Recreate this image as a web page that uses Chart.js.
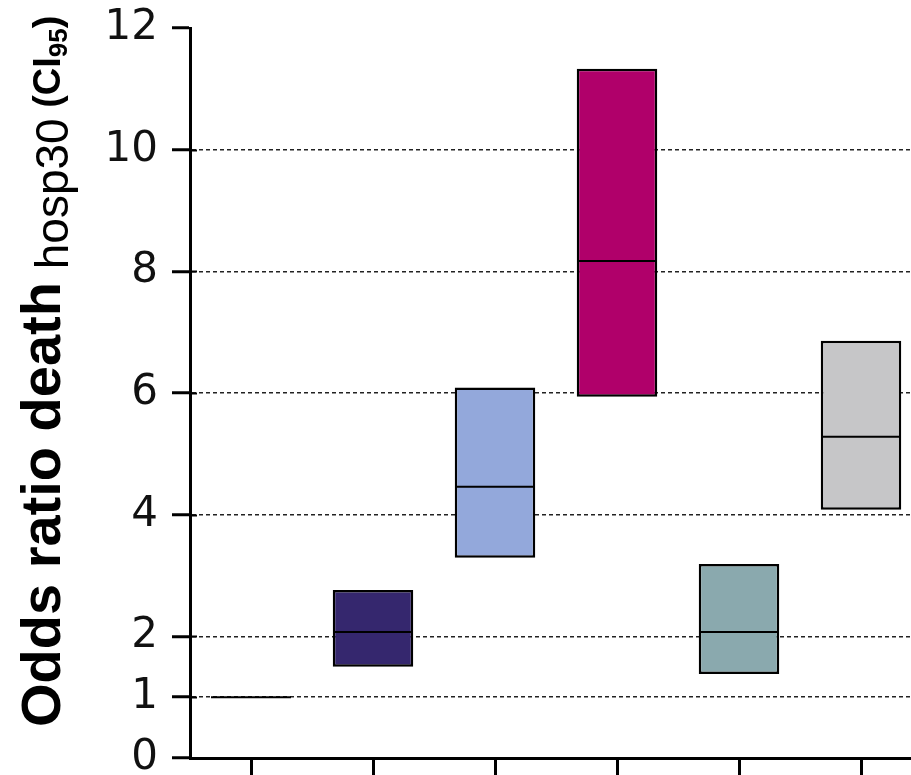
<!DOCTYPE html>
<html>
<head>
<meta charset="utf-8">
<script src="https://cdn.jsdelivr.net/npm/chart.js@4.4.1/dist/chart.umd.min.js"></script>
<style>
  html, body { margin: 0; padding: 0; background: #fff; overflow: hidden; }
  #orChart { position: absolute; left: 0; top: 0; }
</style>
</head>
<body>
<canvas id="orChart" width="940" height="800"></canvas>
<script>
// Data
const categories = ['Reference', 'Group 1', 'Group 2', 'Group 3', 'Group 4', 'Group 5'];
const ciLow = [null, 1.50, 3.29, 5.94, 1.38, 4.08];
const ciHigh = [null, 2.76, 6.09, 11.33, 3.19, 6.86];
const oddsRatio = [1, 2.07, 4.46, 8.17, 2.07, 5.28];
const boxColors = ['#ffffff', '#35276e', '#93a8db', '#b0006a', '#8aa9ae', '#c6c6c8'];
const yTickValues = [0, 1, 2, 4, 6, 8, 10, 12];

// y-axis title pieces: [text, bold, size, baseline shift]
const yTitleParts = [
    ['Odds ratio death', true, 56, 0],
    [' hosp30', false, 46, 8],
    [' (CI', true, 38, 0],
    ['95', true, 26, 7],
    [')', true, 38, 0]
];

const FONT = '"Liberation Sans", Arial, sans-serif';

// Small inner ticks + composite y-axis title with subscripts
const extrasPlugin = {
    id: 'extras',
    afterDraw(chart) {
        const ctx = chart.ctx;
        const y = chart.scales.y;
        ctx.save();
        ctx.strokeStyle = '#000';
        ctx.lineWidth = 2;
        yTickValues.forEach(v => {
            if (v === 0 || v === 12) return;
            const py = Math.round(y.getPixelForValue(v)) + 0.5;
            ctx.beginPath();
            ctx.moveTo(y.right, py);
            ctx.lineTo(y.right + 7, py);
            ctx.stroke();
        });

        // rotated title, reading bottom to top
        ctx.translate(60, 727);
        ctx.rotate(-Math.PI / 2);
        ctx.fillStyle = '#000';
        ctx.textBaseline = 'alphabetic';
        ctx.textAlign = 'left';
        let x = 0;
        yTitleParts.forEach(([text, bold, size, shift]) => {
            ctx.font = (bold ? 'bold ' : '') + size + 'px ' + FONT;
            ctx.fillText(text, x, shift);
            x += ctx.measureText(text).width;
        });
        ctx.restore();
    }
};

const ctx = document.getElementById('orChart').getContext('2d');
const orChart = new Chart(ctx, {
    type: 'bar',
    data: {
        labels: categories,
        datasets: [
            {
                type: 'line',
                label: 'Odds ratio',
                data: oddsRatio,
                showLine: false,
                pointStyle: 'line',
                pointRadius: 40,
                pointHoverRadius: 40,
                borderColor: '#000',
                pointBorderWidth: 2,
                order: 0
            },
            {
                label: 'CI95',
                data: categories.map((c, i) => ciLow[i] === null ? null : [ciLow[i], ciHigh[i]]),
                backgroundColor: boxColors,
                borderColor: '#000',
                borderWidth: 2.5,
                borderSkipped: false,
                barPercentage: 0.66,
                categoryPercentage: 1.0,
                order: 1
            }
        ]
    },
    options: {
        responsive: false,
        animation: false,
        layout: { autoPadding: false, padding: { left: 0, top: 28, right: 18, bottom: 0 } },
        plugins: {
            legend: { display: false },
            tooltip: { enabled: false },
            title: { display: false }
        },
        scales: {
            x: {
                offset: true,
                grid: {
                    offset: false,
                    drawOnChartArea: false,
                    color: '#000',
                    tickLength: 22,
                    lineWidth: 3
                },
                border: { color: '#000', width: 3 },
                ticks: { display: false },
                afterFit: (scale) => {
                    scale.height = 42;
                    scale.paddingLeft = 0;
                    scale.paddingRight = 0;
                }
            },
            y: {
                min: 0,
                max: 12,
                afterBuildTicks: (scale) => {
                    scale.ticks = yTickValues.map(v => ({ value: v }));
                },
                grid: {
                    color: (c) => (c.tick && (c.tick.value === 0 || c.tick.value === 12)) ? 'rgba(0,0,0,0)' : '#222',
                    lineWidth: 1.5,
                    tickColor: '#000',
                    tickLength: 18,
                    tickWidth: 3,
                    tickBorderDash: []
                },
                border: { color: '#000', width: 3, dash: [4, 3] },
                ticks: {
                    color: '#111',
                    padding: 14,
                    font: { family: '"DejaVu Sans", sans-serif', size: 42 }
                },
                afterFit: (scale) => {
                    scale.width = 190;
                    scale.paddingTop = 0;
                    scale.paddingBottom = 0;
                }
            }
        }
    },
    plugins: [extrasPlugin]
});
</script>
</body>
</html>
